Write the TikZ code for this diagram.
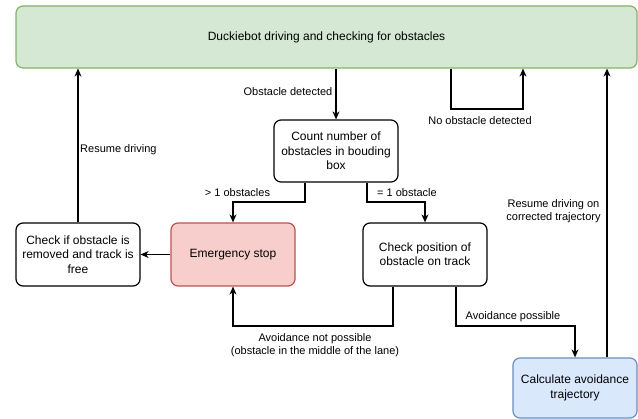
\documentclass[tikz,border=0pt]{standalone}
\usepackage{fontspec}
\setmainfont{Liberation Sans}
\usetikzlibrary{arrows.meta}
\definecolor{gfill}{HTML}{D5E8D4}
\definecolor{gline}{HTML}{82B366}
\definecolor{rfill}{HTML}{F8CECC}
\definecolor{rline}{HTML}{B85450}
\definecolor{bfill}{HTML}{DAE8FC}
\definecolor{bline}{HTML}{6C8EBF}
\tikzset{
  box/.style={draw=black, line width=1.2pt, rounded corners=7pt, align=center,
    minimum width=124pt, minimum height=63pt, inner sep=2pt,
    font=\fontsize{12}{14.4}\selectfont},
  conn/.style={line width=1.3pt, -{Stealth[length=8pt,width=7pt,inset=2.5pt]}},
  lbl/.style={align=center, inner sep=0pt, font=\fontsize{11}{13.2}\selectfont}
}
\begin{document}
\begin{tikzpicture}[x=1pt,y=-1pt]
\useasboundingbox (0,0) rectangle (638,419);
\node[box, draw=gline, fill=gfill, minimum width=621pt, minimum height=62pt] (top) at (326.5,37) {Duckiebot driving and checking for obstacles};
\node[box, minimum height=62pt] (count) at (336,151) {Count number of\\obstacles in bouding\\box};
\node[box] (check) at (78,254.5) {Check if obstacle is\\removed and track is\\free};
\node[box, draw=rline, fill=rfill] (estop) at (233,254.5) {Emergency stop};
\node[box] (pos) at (425,254.5) {Check position of\\obstacle on track};
\node[box, draw=bline, fill=bfill, minimum height=60pt] (calc) at (575,388) {Calculate avoidance\\trajectory};

\coordinate (l1) at (451,109);
\coordinate (l2) at (523,109);
\coordinate (cs1) at ([xshift=-31pt]count.south);
\coordinate (cs2) at ([xshift=31pt]count.south);
\coordinate (ps1) at ([xshift=-32pt]pos.south);
\coordinate (ps2) at ([xshift=31pt]pos.south);
\coordinate (cn) at ([xshift=32pt]calc.north);

\draw[conn] (top.south -| count.north) -- (count.north);
\draw[conn] (top.south -| l1) -- (l1) -- (l2) -- (top.south -| l2);
\draw[conn] (cs1) -- (cs1 |- 0,202) -| (estop.north);
\draw[conn] (cs2) -- (cs2 |- 0,202) -| (pos.north);
\draw[conn] (estop.west) -- (check.east);
\draw[conn] (check.north) -- (check.north |- top.south);
\draw[conn] (ps1) -- (ps1 |- 0,326) -| (estop.south);
\draw[conn] (ps2) -- (ps2 |- 0,326) -| (calc.north);
\draw[conn] (cn) -- (cn |- top.south);

\node[lbl] (t1) at (288,92) {Obstacle detected};
\node[lbl] (t2) at (480,121) {No obstacle detected};
\node[lbl, anchor=west] (t3) at (80,150) {Resume driving};
\node[lbl] (t4) at (237.5,193) {> 1 obstacles};
\node[lbl] (t5) at (407,193) {= 1 obstacle};
\node[lbl] (t6) at (315,345.5) {Avoidance not possible\\(obstacle in the middle of the lane)};
\node[lbl] (t7) at (513,317) {Avoidance possible};
\node[lbl] (t8) at (553.5,211.5) {Resume driving on\\corrected trajectory};
\end{tikzpicture}
\end{document}
